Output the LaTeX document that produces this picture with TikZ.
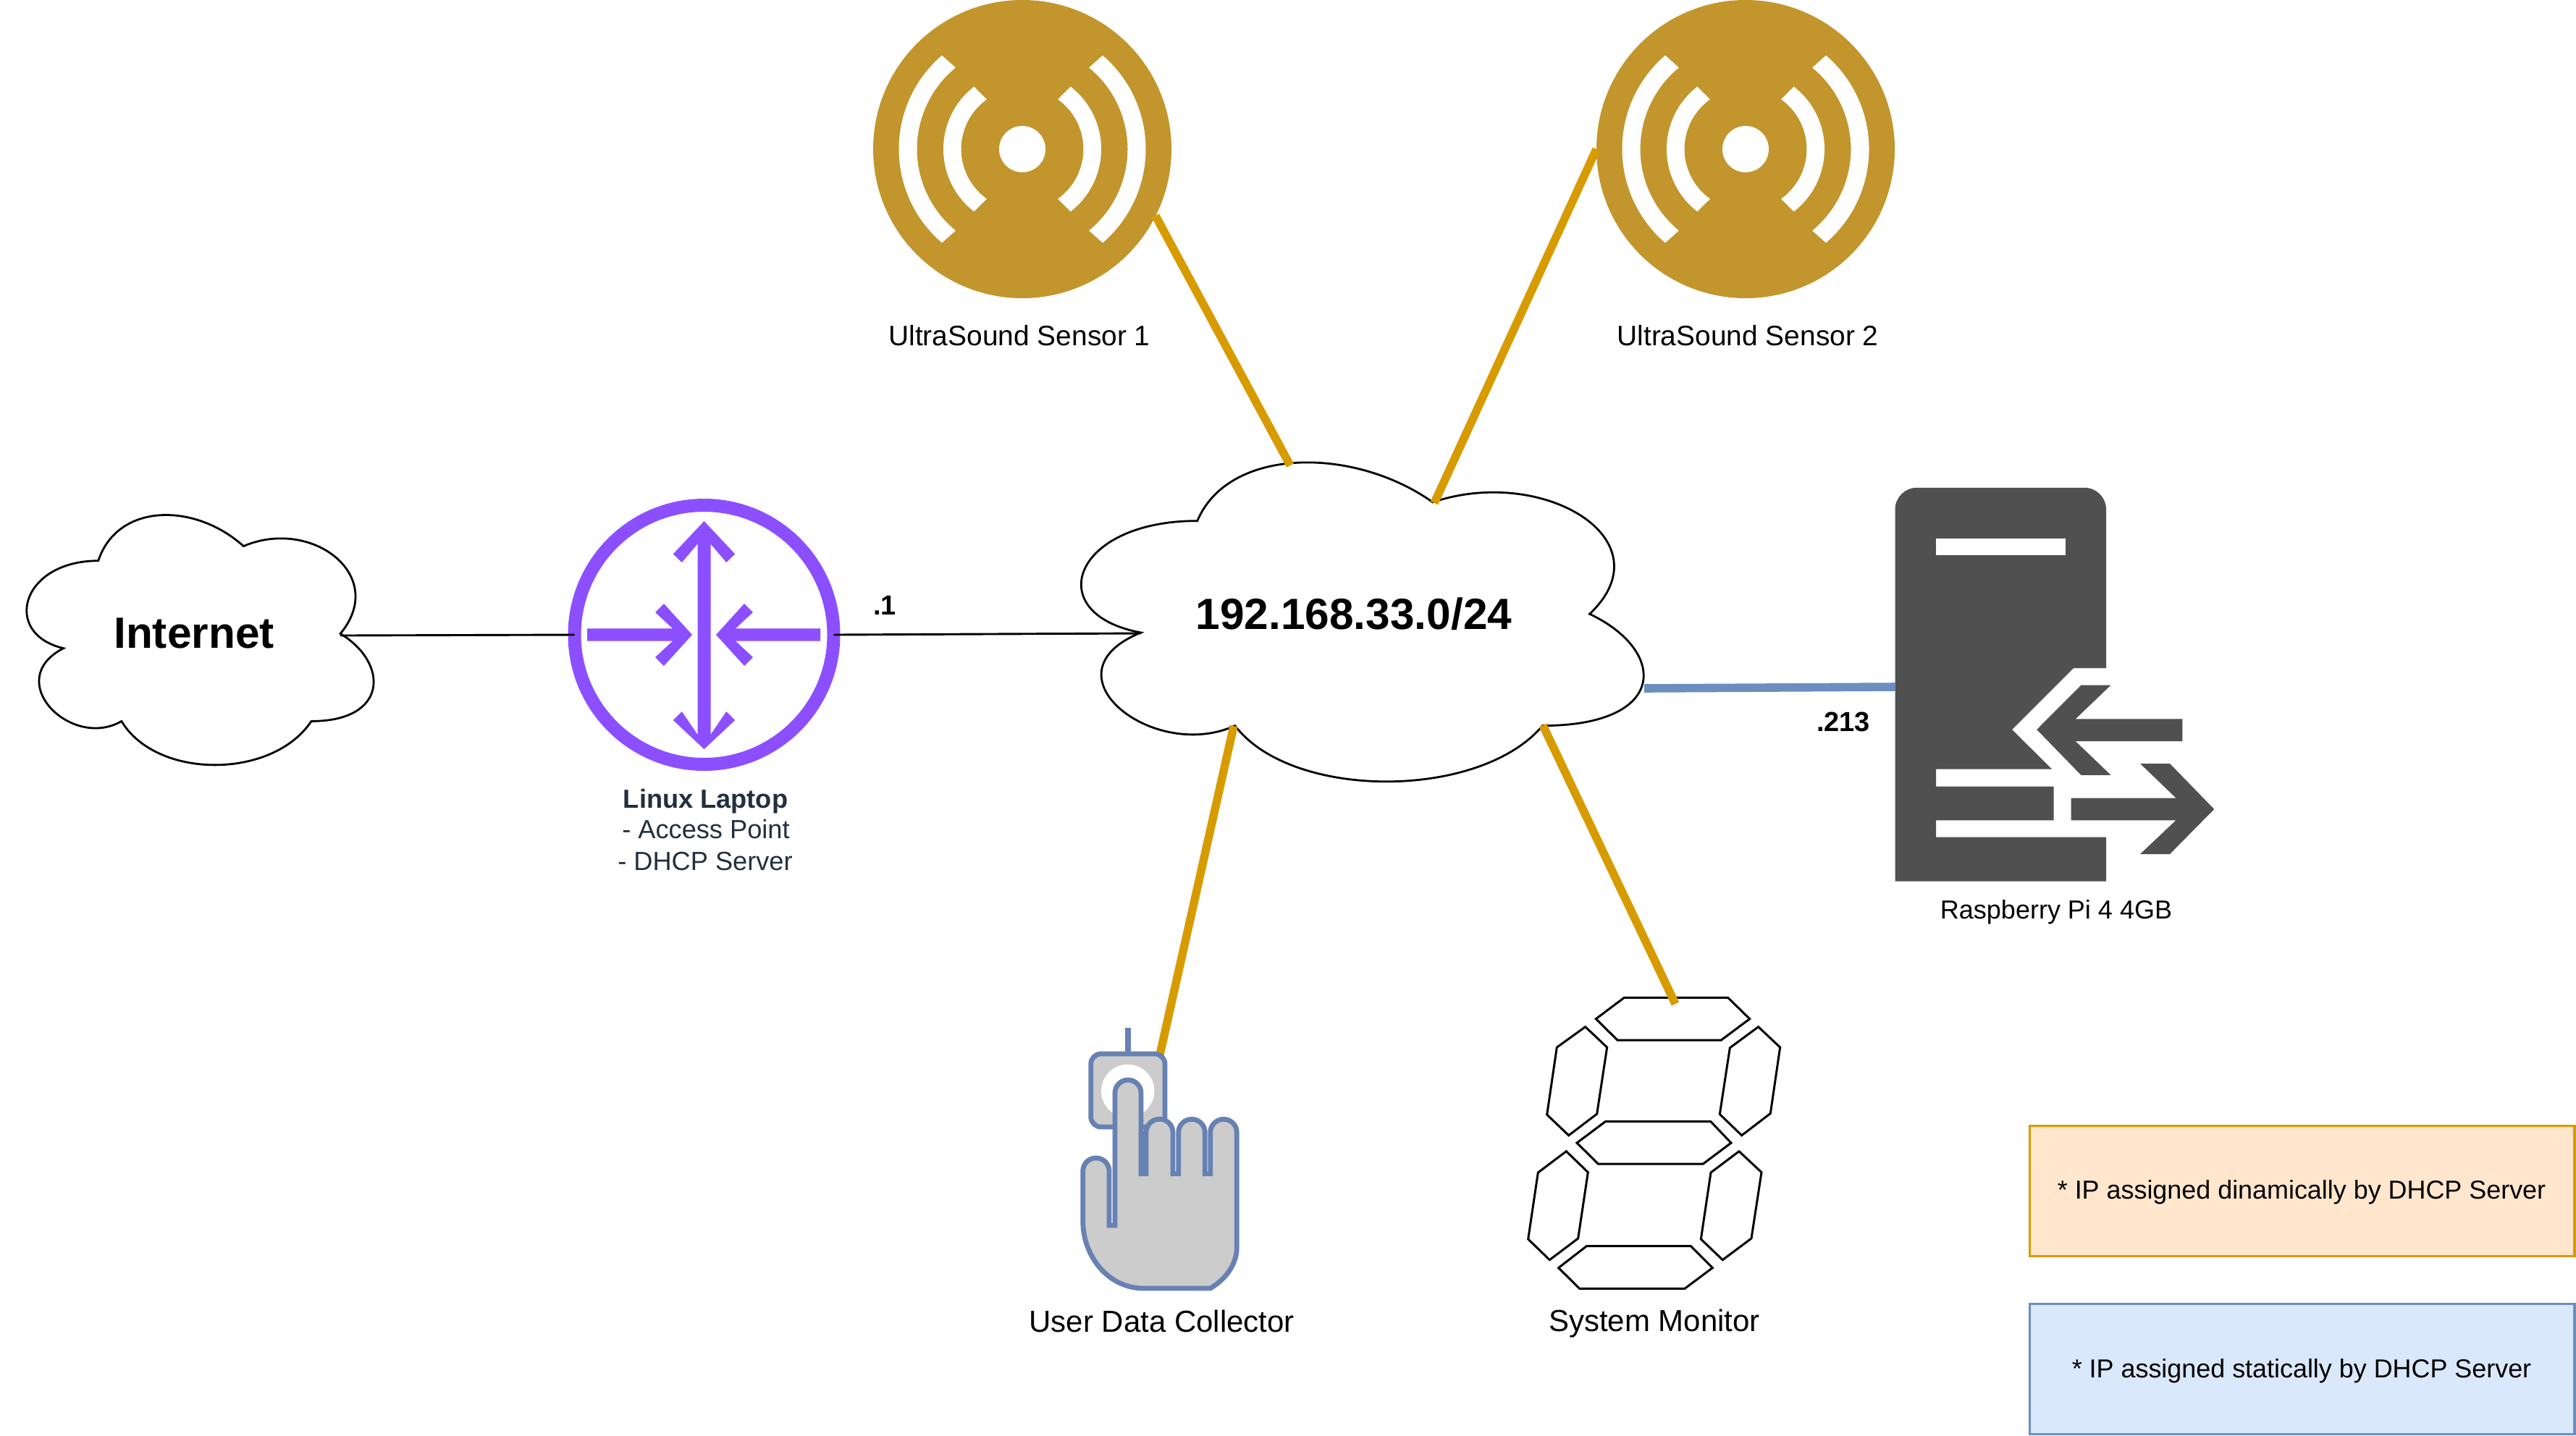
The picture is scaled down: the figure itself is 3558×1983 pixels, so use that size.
\documentclass[tikz,border=0pt]{standalone}
\usepackage{fontspec}
\setmainfont{Liberation Sans}
\definecolor{golden}{HTML}{D79B00}
\definecolor{bluel}{HTML}{6C8EBF}
\definecolor{sensorgold}{HTML}{C2962D}
\definecolor{routerv}{HTML}{8C4FFF}
\definecolor{srvgrey}{HTML}{505050}
\definecolor{handblue}{HTML}{6881B3}
\definecolor{handgrey}{HTML}{CCCCCC}
\definecolor{inkdark}{HTML}{232F3E}
\definecolor{legorange}{HTML}{FFE6CC}
\definecolor{legblue}{HTML}{DAE8FC}
\newcommand{\fs}[1]{\fontsize{#1}{#1}\selectfont}
\tikzset{
  goldlink/.style={draw=golden,line width=5.7pt,line cap=butt},
  bluelink/.style={draw=bluel,line width=5.8pt,line cap=butt},
  blacklink/.style={draw=black,line width=1.45pt},
  cloudshape/.style={draw=black,fill=white,line width=1.4pt,line join=miter},
  cloudtext/.style={inner sep=0pt,font=\fs{30.2}\bfseries},
  caption/.style={inner sep=0pt,anchor=base,font=\fs{19.45}},
  captionbig/.style={inner sep=0pt,anchor=base,font=\fs{21}},
  smalltext/.style={inner sep=0pt,anchor=base,font=\fs{18}},
  laptoptext/.style={inner sep=0pt,anchor=base,text=inkdark,font=\fs{18.1}},
  iplabel/.style={inner sep=0pt,anchor=base,font=\fs{19}\bfseries},
  sensorbody/.style={circle,fill=sensorgold,inner sep=0pt,outer sep=0pt,minimum size=206pt},
  routerring/.style={circle,draw=routerv,line width=9pt,fill=white,inner sep=0pt,outer sep=0pt,minimum size=179pt},
  segment/.style={draw=black,line width=1.5pt,line join=miter},
  handline/.style={draw=handblue,fill=handgrey,line width=3.4pt,line join=miter},
  legendbox/.style={inner sep=0pt,outer sep=0pt,line width=1.6pt,minimum width=376.25pt,minimum height=89.75pt},
}
\newcommand{\cloudat}[4]{%
  \begin{scope}[shift={(#1,#2)},x=#3*0.5pt,y=-#4*0.5pt]
    \draw[cloudshape] (.25,.25) .. controls (.05,.25) and (0,.5) .. (.16,.55)
      .. controls (0,.66) and (.18,.9) .. (.31,.8)
      .. controls (.4,1) and (.7,1) .. (.8,.8)
      .. controls (1,.8) and (1,.6) .. (.875,.5)
      .. controls (1,.3) and (.8,.1) .. (.625,.2)
      .. controls (.5,.05) and (.3,.05) .. (.25,.25) -- cycle;
  \end{scope}}
\newcommand{\sensorwaves}[2]{%
  \begin{scope}[shift={(#1,#2)}]
    \fill[white] (0,0) circle[radius=32];
    \foreach \side in {180,0}{
      \fill[white] (\side-52.3:109) arc[start angle=\side-52.3,end angle=\side+52.3,radius=109]
        -- (\side+54.5:84.5) arc[start angle=\side+54.5,end angle=\side-54.5,radius=84.5] -- cycle;
      \fill[white] (\side-49.4:170.5) arc[start angle=\side-49.4,end angle=\side+49.4,radius=170.5]
        -- (\side+50.7:145.5) arc[start angle=\side+50.7,end angle=\side-50.7,radius=145.5] -- cycle;
    }
  \end{scope}}
\begin{document}
\begin{tikzpicture}[x=0.5pt,y=-0.5pt]
\useasboundingbox (0,0) rectangle (3558,1983);

% attachment points
\coordinate (inetOut) at (470,878);
\coordinate (lanWest) at (1576,875);
\coordinate (lanTopL) at (1782,643);
\coordinate (lanTopR) at (1981,695);
\coordinate (lanBotL) at (1704,1003);
\coordinate (lanBotR) at (2131,1002);
\coordinate (lanEast) at (2271,951);
\coordinate (sensorOneOut) at (1596,298);
\coordinate (serverIn) at (2618,949);
\coordinate (buttonOut) at (1602,1457);
\coordinate (segmentIn) at (2314,1387);

% clouds
\cloudat{2}{674}{535}{403}
\cloudat{1437}{591}{867}{514.5}
\node[cloudtext] (inetText) at (268,875) {Internet};
\node[cloudtext] (lanText) at (1870,848.5) {192.168.33.0/24};

% sensors
\node[sensorbody] (sensorOne) at (1412,206) {};
\sensorwaves{1412}{206}
\node[sensorbody] (sensorTwo) at (2411,206) {};
\sensorwaves{2411}{206}
\node[caption] (sensorOneLabel) at (1408,477) {UltraSound Sensor 1};
\node[caption] (sensorTwoLabel) at (2414,477) {UltraSound Sensor 2};

% router
\node[routerring] (router) at (972.5,877) {};
\draw[blacklink] (inetOut) -- (router.west);
\draw[blacklink] (router.east) -- (lanWest);
\begin{scope}[shift={(972.5,877)}]
  \fill[routerv] (0,-157) -- (42.7,-111.6) -- (30.7,-100) -- (9,-125.5) -- (9,138)
     -- (30.7,106) -- (42.7,118) -- (0,158) -- (-42.7,118) -- (-30.7,106) -- (-9,138)
     -- (-9,-125.5) -- (-30.7,-100) -- (-42.7,-111.6) -- cycle;
  \fill[routerv] (-161.5,-8.7) -- (-43.5,-8.7) -- (-67.5,-31) -- (-55.5,-43) -- (-16.5,0)
     -- (-55.5,43) -- (-67.5,31) -- (-43.5,8.7) -- (-161.5,8.7) -- cycle;
  \fill[routerv] (160.5,-8.7) -- (43.5,-8.7) -- (67.5,-31) -- (55.5,-43) -- (16.5,0)
     -- (55.5,43) -- (67.5,31) -- (43.5,8.7) -- (160.5,8.7) -- cycle;
\end{scope}
\node[laptoptext,font=\fs{18.1}\bfseries] (laptopName) at (974.5,1116) {Linux Laptop};
\node[laptoptext] (laptopAp) at (975,1158) {- Access Point};
\node[laptoptext] (laptopDhcp) at (974,1202.5) {- DHCP Server};
\node[iplabel] (ipOne) at (1222,849.5) {.1};

% server
\fill[srvgrey] (2617.5,703.8) arc[start angle=180,end angle=270,radius=30] -- (2879,673.8)
  arc[start angle=270,end angle=360,radius=30] -- (2909,923) -- (2864,923) -- (2779,1008)
  -- (2834,1062.5) -- (2674,1062.5) -- (2674,1086.7) -- (2836.5,1086.7) -- (2836.5,1133.3)
  -- (2674,1133.3) -- (2674,1156.7) -- (2909,1156.7) -- (2909,1217.5) -- (2617.5,1217.5) -- cycle;
\fill[white] (2674,743.8) rectangle (2852.5,767);
\fill[srvgrey] (2813.2,1008) -- (2874.3,946.7) -- (2915.4,946.7) -- (2866.8,993.3) -- (3014.3,993.3)
  -- (3014.3,1024.2) -- (2866.8,1024.2) -- (2915.4,1070.8) -- (2874.3,1070.8) -- cycle;
\fill[srvgrey] (2860.7,1102.5) -- (3005.4,1102.5) -- (2956,1055) -- (2997,1055) -- (3058.2,1118)
  -- (2997,1180) -- (2956,1180) -- (3005.4,1133.3) -- (2860.7,1133.3) -- cycle;
\node[smalltext] (serverLabel) at (2840,1269.7) {Raspberry Pi 4 4GB};
\node[iplabel] (ipTwo) at (2546,1010.7) {.213};

% push button hand
\draw[goldlink] (lanBotL) -- (buttonOut);
\draw[draw=handblue,line width=3.65pt] (1558,1420) -- (1558,1458);
\draw[handline,rounded corners=7pt] (1506.7,1456) rectangle (1609,1557);
\fill[white] (1557.7,1507.3) circle[radius=36.7];
\draw[handline] (1495.7,1687) -- (1495.7,1618) arc[start angle=180,end angle=360,radius=18.15]
  -- (1532,1693) -- (1540,1693) -- (1540,1510) arc[start angle=180,end angle=360,radius=18]
  -- (1576,1621.7) -- (1583,1621.7) -- (1583,1564.6) arc[start angle=180,end angle=360,radius=18.5]
  -- (1620,1621.7) -- (1627.7,1621.7) -- (1627.7,1564.6) arc[start angle=180,end angle=360,radius=18.3]
  -- (1664.3,1621.7) -- (1671.7,1621.7) -- (1671.7,1564.6) arc[start angle=180,end angle=360,radius=18.3]
  -- (1708.3,1723) .. controls (1708.3,1745) and (1695,1766) .. (1671.7,1780)
  -- (1580,1780) .. controls (1530,1780) and (1495.7,1735) .. (1495.7,1687) -- cycle;
\node[captionbig] (handLabel) at (1604.7,1840) {User Data Collector};

% seven segment display
\begin{scope}[shift={(2080,1360)},x=0.5pt/3,y=-0.5pt/3]
  \draw[segment] (490,55) -- (920,55) -- (1010,143) -- (892,231) -- (462,231) -- (373,143) -- cycle;
  \draw[segment] (329,176) -- (419,261) -- (377,537) -- (260,626) -- (170,540) -- (211,261) -- cycle;
  \draw[segment] (1046,176) -- (1136,261) -- (1096,535) -- (977,626) -- (886,538) -- (928,263) -- cycle;
  \draw[segment] (413,568) -- (848,568) -- (933,657) -- (817,744) -- (382,744) -- (294,657) -- cycle;
  \draw[segment] (250,692) -- (340,779) -- (299,1053) -- (181,1142) -- (92,1056) -- (133,780) -- cycle;
  \draw[segment] (966,692) -- (1059,779) -- (1017,1053) -- (898,1142) -- (808,1056) -- (849,780) -- cycle;
  \draw[segment] (334,1085) -- (766,1085) -- (856,1175) -- (741,1261) -- (305,1261) -- (218,1175) -- cycle;
\end{scope}
\node[captionbig] (segmentLabel) at (2285,1839.3) {System Monitor};

% connectors
\draw[goldlink] (sensorOneOut) -- (lanTopL);
\draw[goldlink] (sensorTwo.west) -- (lanTopR);
\draw[goldlink] (lanBotR) -- (segmentIn);
\draw[bluelink] (lanEast) -- (serverIn);

% legend
\node[legendbox,draw=golden,fill=legorange] (legendDyn) at (3179.75,1645.5) {};
\node[legendbox,draw=bluel,fill=legblue] (legendStat) at (3179.75,1891.5) {};
\node[smalltext,font=\fs{17.95}] (legendDynText) at (3179,1656) {* IP assigned dinamically by DHCP Server};
\node[smalltext,font=\fs{17.95}] (legendStatText) at (3179,1903.5) {* IP assigned statically by DHCP Server};
\end{tikzpicture}
\end{document}
